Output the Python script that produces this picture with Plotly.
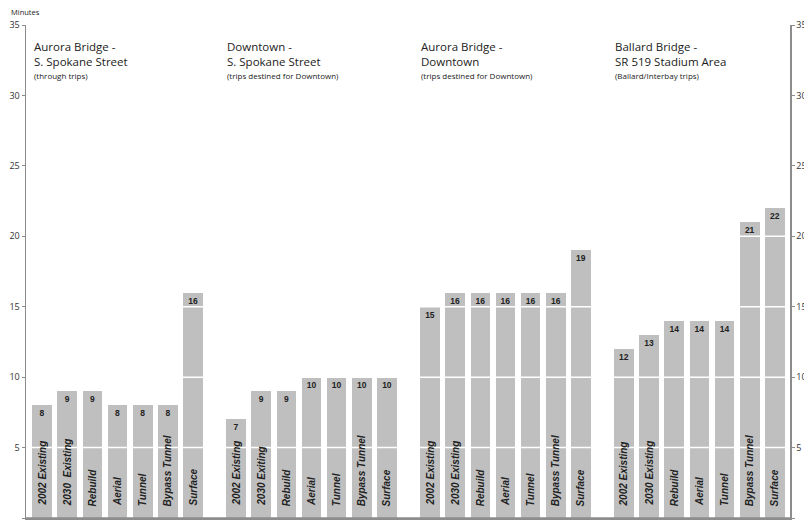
import plotly.graph_objects as go

# ---------------- data ----------------
group_titles = ["Aurora Bridge -<br>S. Spokane Street",
                "Downtown -<br>S. Spokane Street",
                "Aurora Bridge -<br>Downtown",
                "Ballard Bridge -<br>SR 519 Stadium Area"]
group_subtitles = ["(through trips)",
                   "(trips destined for Downtown)",
                   "(trips destined for Downtown)",
                   "(Ballard/Interbay trips)"]
labels_g1 = ["2002 Existing", "2030  Existing", "Rebuild", "Aerial", "Tunnel", "Bypass Tunnel", "Surface"]
labels_g2 = ["2002 Existing", "2030 Exiting", "Rebuild", "Aerial", "Tunnel", "Bypass Tunnel", "Surface"]
labels_g3 = ["2002 Existing", "2030 Existing", "Rebuild", "Aerial", "Tunnel", "Bypass Tunnel", "Surface"]
labels_g4 = ["2002 Existing", "2030 Existing", "Rebuild", "Aerial", "Tunnel", "Bypass Tunnel", "Surface"]
values_g1 = [8, 9, 9, 8, 8, 8, 16]
values_g2 = [7, 9, 9, 10, 10, 10, 10]
values_g3 = [15, 16, 16, 16, 16, 16, 19]
values_g4 = [12, 13, 14, 14, 14, 21, 22]
y_ticks = [0, 5, 10, 15, 20, 25, 30, 35]
y_axis_title = "Minutes"

group_labels = [labels_g1, labels_g2, labels_g3, labels_g4]
group_values = [values_g1, values_g2, values_g3, values_g4]

# ---------------- layout constants ----------------
GROUP_STEP = 7.71
BAR_COLOR = "#bfbfbf"
AXIS_COLOR = "#8c8c8c"
TEXT_COLOR = "#222222"

fig = go.Figure()
annotations = []

for g, (labs, vals) in enumerate(zip(group_labels, group_values)):
    xs = [g * GROUP_STEP + i for i in range(len(vals))]
    fig.add_trace(go.Bar(
        x=xs, y=vals, width=0.78,
        marker=dict(color=BAR_COLOR, line=dict(width=0)),
        text=[str(v) for v in vals], textposition="inside",
        insidetextanchor="end", textangle=0,
        textfont=dict(family="Liberation Sans", size=8.5, color=TEXT_COLOR, weight="bold"),
        showlegend=False, hoverinfo="skip", yaxis="y"))
    for x, lab in zip(xs, labs):
        annotations.append(dict(
            x=x, y=0, xref="x", yref="y", text="<b><i>%s</i></b>" % lab,
            textangle=-90, showarrow=False, xanchor="center", yanchor="bottom",
            yshift=10, font=dict(family="Liberation Sans", size=10, color=TEXT_COLOR)))
    annotations.append(dict(
        x=xs[0] - 0.42, y=34.15, xref="x", yref="y", text=group_titles[g],
        showarrow=False, xanchor="left", yanchor="top", align="left",
        font=dict(family="Open Sans", size=11.5, color=TEXT_COLOR)))
    annotations.append(dict(
        x=xs[0] - 0.42, y=31.4, xref="x", yref="y", text=group_subtitles[g],
        showarrow=False, xanchor="left", yanchor="middle", align="left",
        font=dict(family="Open Sans", size=8, color=TEXT_COLOR)))

annotations.append(dict(
    x=-0.022, y=1.026, xref="paper", yref="paper", text=y_axis_title,
    showarrow=False, xanchor="left", yanchor="middle",
    font=dict(family="Open Sans", size=7.5, color=TEXT_COLOR)))

# white gridlines drawn over the bars, plus the baseline
shapes = [dict(type="line", xref="paper", yref="y", x0=0, x1=1, y0=t, y1=t,
               line=dict(color="white", width=1.5), layer="above")
          for t in y_ticks[1:-1]]
shapes.append(dict(type="line", xref="paper", yref="y", x0=0, x1=1, y0=0, y1=0,
                   line=dict(color=AXIS_COLOR, width=1.5), layer="above"))

# invisible trace for right axis
fig.add_trace(go.Scatter(x=[0], y=[0], yaxis="y2", mode="markers",
                         marker=dict(opacity=0), showlegend=False, hoverinfo="skip"))

last_x = 3 * GROUP_STEP + 6
axis_common = dict(range=[0, 35], tickvals=y_ticks, ticks="outside", ticklen=3,
                   tickcolor=AXIS_COLOR, showline=True, linecolor=AXIS_COLOR, linewidth=1.5,
                   tickfont=dict(family="Open Sans", size=9, color="#333333"),
                   zeroline=False, fixedrange=True, automargin=False, showgrid=False)

fig.update_layout(
    width=804, height=521,
    margin=dict(l=26, r=14, t=25, b=3, autoexpand=False),
    paper_bgcolor="white", plot_bgcolor="white",
    bargap=0, barmode="overlay",
    xaxis=dict(range=[-0.64, last_x + 0.6], showgrid=False, showticklabels=False,
               ticks="", showline=True, linecolor=AXIS_COLOR, linewidth=1.5,
               zeroline=False, mirror=False, automargin=False, fixedrange=True),
    yaxis=dict(**axis_common, side="left"),
    yaxis2=dict(**axis_common, side="right", overlaying="y"),
    annotations=annotations,
    shapes=shapes,
)

fig.write_html("out.html", config={"displayModeBar": False, "staticPlot": True},
               post_script="document.body.style.margin='0';document.body.style.overflow='hidden';")
